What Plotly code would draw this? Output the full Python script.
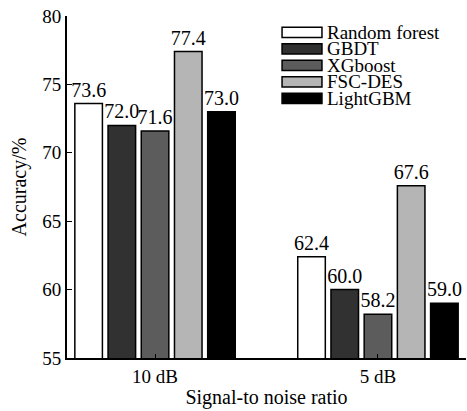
import plotly.graph_objects as go

categories = ["10 dB", "5 dB"]
series_names = ["Random forest", "GBDT", "XGboost", "FSC-DES", "LightGBM"]
random_forest = [73.6, 62.4]
gbdt = [72.0, 60.0]
xgboost = [71.6, 58.2]
fsc_des = [77.4, 67.6]
lightgbm = [73.0, 59.0]
series_values = [random_forest, gbdt, xgboost, fsc_des, lightgbm]
colors = ["#ffffff", "#313131", "#5c5c5c", "#b5b5b5", "#000000"]
y_ticks = [55, 60, 65, 70, 75, 80]

FONT = "Liberation Serif, Times New Roman, serif"

fig = go.Figure()
for name, vals, col in zip(series_names, series_values, colors):
    fig.add_trace(go.Bar(
        x=categories, y=vals, name=name,
        marker=dict(color=col, line=dict(color="#000000", width=1.5)),
        text=[f"{v:.1f}" for v in vals], textposition="outside",
        constraintext="none",
        textfont=dict(family=FONT, size=20, color="#000"),
        cliponaxis=False,
    ))

# manual legend (wide boxes like the reference)
leg_x0, leg_x1, leg_tx = 0.539, 0.639, 0.646
leg_y0, leg_dy, box_h = 0.952, 0.0483, 0.030
for i, (name, col) in enumerate(zip(series_names, colors)):
    yc = leg_y0 - i * leg_dy
    fig.add_shape(type="rect", xref="paper", yref="paper",
                  x0=leg_x0, x1=leg_x1, y0=yc - box_h / 2, y1=yc + box_h / 2,
                  fillcolor=col, line=dict(color="#000", width=1.5))
    fig.add_annotation(xref="paper", yref="paper", x=leg_tx, y=yc,
                       text=name, showarrow=False, xanchor="left", yanchor="middle",
                       font=dict(family=FONT, size=19, color="#000"))

fig.update_layout(
    width=467, height=411,
    margin=dict(l=67, r=1, t=16, b=53, autoexpand=False),
    paper_bgcolor="white", plot_bgcolor="white",
    barmode="group", bargap=0.255, bargroupgap=0.17,
    showlegend=False,
    font=dict(family=FONT, size=19, color="#000"),
)
fig.update_xaxes(
    range=[-0.395, 1.395], showline=True, linecolor="#000", linewidth=2,
    ticks="inside", ticklen=4, tickcolor="#000", showgrid=False, automargin=False,
    title=dict(text="Signal-to noise ratio", standoff=4,
               font=dict(family=FONT, size=20)),
    tickfont=dict(family=FONT, size=19),
)
fig.update_yaxes(
    range=[55, 80], tickvals=y_ticks, showline=True, linecolor="#000", linewidth=2,
    ticks="inside", ticklen=5, tickcolor="#000", showgrid=False, zeroline=False,
    automargin=False,
    title=dict(text="Accuracy/%", standoff=10, font=dict(family=FONT, size=20)),
    tickfont=dict(family=FONT, size=19),
)

fig.write_html("out.html", post_script="document.body.style.margin='0';",
               config={"displayModeBar": False})
